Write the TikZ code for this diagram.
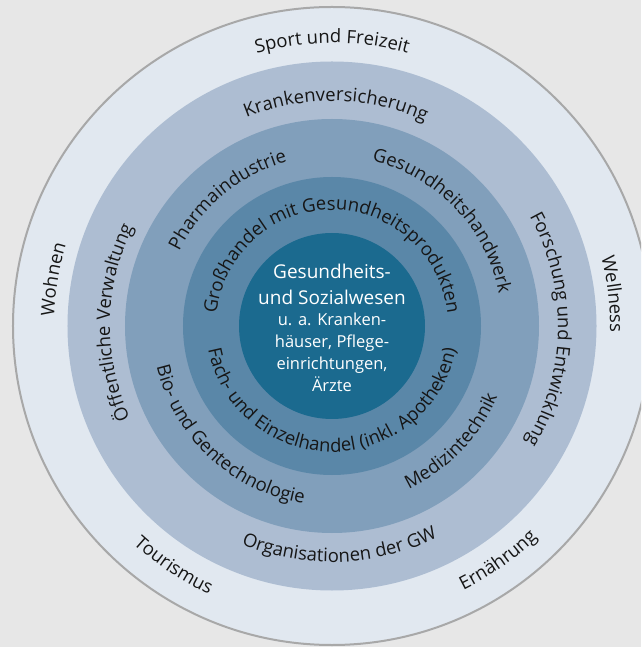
\documentclass[tikz,border=0pt]{standalone}
\usepackage{fontspec}
\setmainfont{Open Sans}
\usetikzlibrary{decorations.text}

\definecolor{bgcol}{HTML}{E7E7E7}
\definecolor{ringA}{HTML}{E1E8F0}
\definecolor{ringB}{HTML}{ADBDD2}
\definecolor{ringC}{HTML}{819FBB}
\definecolor{ringD}{HTML}{5A87A8}
\definecolor{corecol}{HTML}{1B6A8F}
\definecolor{rimcol}{HTML}{A8A8A8}
\definecolor{inkcol}{HTML}{161616}

\newcommand\arcfont{\fontsize{18.5}{22}\selectfont}

% label read clockwise over the top, letters pointing outward
\newcommand\cwlabel[3]{%
  \path[decorate,decoration={text along path,text align=center,
        text color=inkcol,text={|\arcfont|#3}}]
    ({#1+150}:#2) arc[start angle={#1+150}, end angle={#1-150}, radius=#2];}
% label read counter-clockwise under the bottom, letters pointing inward
\newcommand\ccwlabel[3]{%
  \path[decorate,decoration={text along path,text align=center,
        text color=inkcol,text={|\arcfont|#3}}]
    ({#1-150}:#2) arc[start angle={#1-150}, end angle={#1+150}, radius=#2];}

\begin{document}
\begin{tikzpicture}[x=1pt,y=1pt,
  corebig/.style={anchor=base,text=white,font=\fontsize{19}{23}\selectfont,inner sep=0pt},
  coresmall/.style={anchor=base,text=white,font=\fontsize{16.5}{20}\selectfont,inner sep=0pt}]
  \useasboundingbox (-332,-321) rectangle (309,326);
  \fill[bgcol] (-332,-321) rectangle (309,326);
  \begin{scope}
    \clip (-332,-321) rectangle (309,326);
    \fill[ringA] (0,0) circle[radius=320];
    \draw[rimcol,line width=2pt] (0,0) circle[radius=319];
  \end{scope}
  \fill[ringB] (0,0) circle[radius=264.5];
  \fill[ringC] (0,0) circle[radius=207];
  \fill[ringD] (0,0) circle[radius=149];
  \fill[corecol] (0,0) circle[radius=93];

  % outer ring
  \cwlabel{90}{283}{Sport und Freizeit}
  \cwlabel{170.5}{278}{Wohnen}
  \cwlabel{6.5}{278}{Wellness}
  \ccwlabel{236.5}{295}{Tourismus}
  \ccwlabel{305.3}{295}{Ernährung}

  % second ring
  \cwlabel{89}{225}{Krankenversicherung}
  \cwlabel{179}{222}{Öffentliche Verwaltung}
  \cwlabel{-1}{226}{Forschung und Entwicklung}
  \ccwlabel{272}{236}{Organisationen der GW}

  % third ring
  \cwlabel{129.6}{170}{Pharmaindustrie}
  \cwlabel{43.6}{170}{Gesundheitshandwerk}
  \ccwlabel{227}{180}{Bio- und Gentechnologie}
  \ccwlabel{316}{180}{Medizintechnik}

  % fourth ring
  \cwlabel{90}{116}{Großhandel mit Gesundheitsprodukten}
  \ccwlabel{270}{126}{Fach- und Einzelhandel (inkl. Apotheken)}

  % core
  \node[corebig]   (c1) at (0,47)  {Gesundheits-};
  \node[corebig]   (c2) at (0,21)  {und Sozialwesen};
  \node[coresmall] (c3) at (0,0)   {u. a. Kranken-};
  \node[coresmall] (c4) at (0,-22) {häuser, Pflege-};
  \node[coresmall] (c5) at (0,-44) {einrichtungen,};
  \node[coresmall] (c6) at (0,-66) {Ärzte};
\end{tikzpicture}
\end{document}
